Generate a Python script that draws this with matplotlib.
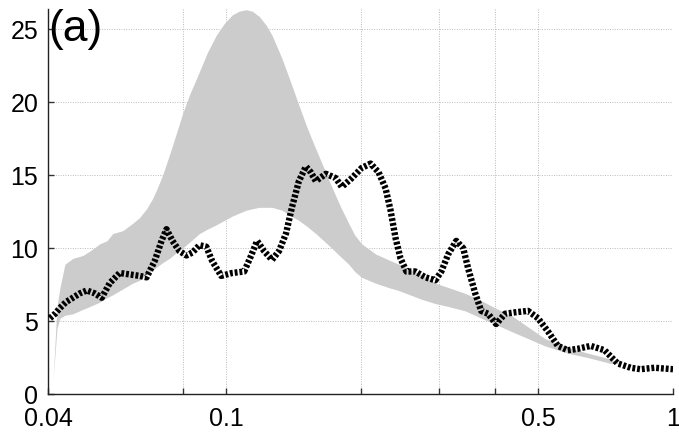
import matplotlib
matplotlib.use("Agg")
import matplotlib.pyplot as plt
from matplotlib.ticker import FixedLocator, NullLocator

plt.rcParams['font.family'] = ['Liberation Sans', 'DejaVu Sans']

# Gray band (range)
band_x = [0.04104, 0.04189, 0.04254, 0.04364, 0.04547, 0.04786, 0.04962, 0.05223,
          0.05414, 0.05583, 0.05877, 0.06186, 0.06412, 0.06646, 0.06854, 0.06997,
          0.07214, 0.07478, 0.07752, 0.07994, 0.08285, 0.08723, 0.09085, 0.09515,
          0.09914, 0.10334, 0.10707, 0.11099, 0.11449, 0.11863, 0.12297, 0.12681,
          0.13349, 0.13837, 0.14563, 0.15174, 0.15888, 0.16562, 0.17248, 0.18070,
          0.18821, 0.19414, 0.20118, 0.21614, 0.23109, 0.24323, 0.27372, 0.29409,
          0.31438, 0.34299, 0.37231, 0.4062, 0.4342, 0.4739, 0.5170, 0.5816,
          0.6445, 0.7250, 0.7516]
band_upper = [0.9, 6.0, 7.3, 8.9, 9.3, 9.5, 9.8, 10.3,
              10.5, 11.0, 11.2, 11.7, 12.1, 12.7, 13.4, 14.0,
              15.0, 16.4, 17.9, 19.2, 20.5, 22.1, 23.4, 24.6,
              25.4, 26.0, 26.25, 26.35, 26.25, 25.9, 25.3, 24.6,
              23.0, 21.7, 19.8, 18.3, 16.8, 15.5, 14.2, 12.8,
              11.7, 10.9, 10.3, 9.6, 9.2, 8.9, 8.2, 7.6,
              7.3, 6.9, 6.4, 5.8, 5.4, 4.6, 3.8, 3.2,
              2.8, 2.4, 2.2]
band_lower = [0.9, 4.5, 5.2, 5.4, 5.5, 5.8, 6.0, 6.3,
              6.6, 6.8, 7.2, 7.6, 7.8, 8.2, 8.5, 8.7,
              9.0, 9.3, 9.7, 10.0, 10.4, 11.0, 11.3, 11.6,
              11.9, 12.2, 12.4, 12.6, 12.7, 12.8, 12.8, 12.8,
              12.6, 12.3, 11.9, 11.5, 11.0, 10.5, 10.0, 9.4,
              8.9, 8.4, 8.0, 7.6, 7.3, 7.1, 6.5, 6.2,
              6.0, 5.7, 5.2, 4.7, 4.3, 3.8, 3.3, 2.8,
              2.5, 2.1, 2.1]

# Black dotted series
line_x = [0.04041, 0.04147, 0.04254, 0.04387, 0.04547, 0.04713, 0.04885, 0.05089,
          0.05275, 0.05496, 0.05785, 0.06090, 0.06412, 0.06646, 0.06925, 0.07178,
          0.07364, 0.07594, 0.07871, 0.08160, 0.08414, 0.08723, 0.09040, 0.09323,
          0.09763, 0.10334, 0.10988, 0.11390, 0.11742, 0.12172, 0.12681, 0.13145,
          0.13625, 0.14051, 0.14563, 0.15096, 0.15488, 0.15888, 0.16735, 0.17614,
          0.18163, 0.19118, 0.20118, 0.21071, 0.21954, 0.22756, 0.23347, 0.23954,
          0.24576, 0.25344, 0.26540, 0.27936, 0.29409, 0.30324, 0.31438, 0.32750,
          0.33946, 0.34826, 0.36110, 0.37231, 0.38587, 0.40204, 0.42102, 0.44318,
          0.4739, 0.49872, 0.52497, 0.55259, 0.5816, 0.61227, 0.65448, 0.70306,
          0.7516, 0.80385, 0.84586, 0.90864, 1.0]
line_y = [5.2, 5.5, 5.9, 6.3, 6.6, 6.9, 7.1, 6.9,
          6.6, 7.6, 8.3, 8.2, 8.1, 8.0, 9.1, 10.5,
          11.3, 10.5, 9.8, 9.5, 9.7, 10.2, 10.1, 9.1,
          8.1, 8.3, 8.4, 9.5, 10.5, 9.8, 9.2, 9.8,
          11.0, 12.8, 14.6, 15.6, 15.2, 14.6, 15.1, 14.8,
          14.2, 14.8, 15.5, 15.8, 15.2, 14.1, 12.6, 10.7,
          9.3, 8.4, 8.4, 8.0, 7.8, 8.4, 9.6, 10.5,
          10.0, 8.6, 6.9, 5.7, 5.5, 4.8, 5.5, 5.6,
          5.7, 5.2, 4.3, 3.3, 3.0, 3.1, 3.3, 3.0,
          2.1, 1.8, 1.7, 1.8, 1.7]

x_ticks = [0.04, 0.08, 0.1, 0.2, 0.3, 0.4, 0.5, 1]
x_ticklabels = ['0.04', '', '0.1', '', '', '', '0.5', '1']
y_ticks = [0, 5, 10, 15, 20, 25]
y_ticklabels = ['0', '5', '10', '15', '20', '25']
panel_label = '(a)'

fig = plt.figure(figsize=(6.79, 4.34), dpi=100)
ax = fig.add_axes([48/679, (434-394)/434, (673-48)/679, (394-9)/434])

ax.fill_between(band_x, band_lower, band_upper, color='#cccccc', linewidth=0, zorder=1)
ax.plot(line_x, line_y, color='black', linewidth=4.6,
        linestyle=(0, (0.45, 0.3)), dash_capstyle='butt', solid_capstyle='butt', zorder=3)

ax.set_xscale('log')
ax.set_xlim(0.04, 1)
ax.set_ylim(0, 26.4)
ax.xaxis.set_major_locator(FixedLocator(x_ticks))
ax.xaxis.set_minor_locator(NullLocator())
ax.set_xticklabels(x_ticklabels)
ax.set_yticks(y_ticks)
ax.set_yticklabels(y_ticklabels)

ax.grid(True, which='major', color='#bbbbbb', linestyle=(0, (1, 1.5)), linewidth=0.7, zorder=0)
ax.set_axisbelow(True)

for s in ['top', 'right']:
    ax.spines[s].set_visible(False)
for s in ['left', 'bottom']:
    ax.spines[s].set_color('#222222')
    ax.spines[s].set_linewidth(1.0)

ax.tick_params(axis='both', direction='in', length=4, width=1, color='#333333',
               labelsize=18, labelcolor='black')
ax.tick_params(axis='x', pad=9)
ax.tick_params(axis='y', pad=7)

ax.text(0.0, 1.0, panel_label, transform=ax.transAxes, fontsize=32,
        ha='left', va='top', color='black')

fig.savefig('out.png', dpi=100)
